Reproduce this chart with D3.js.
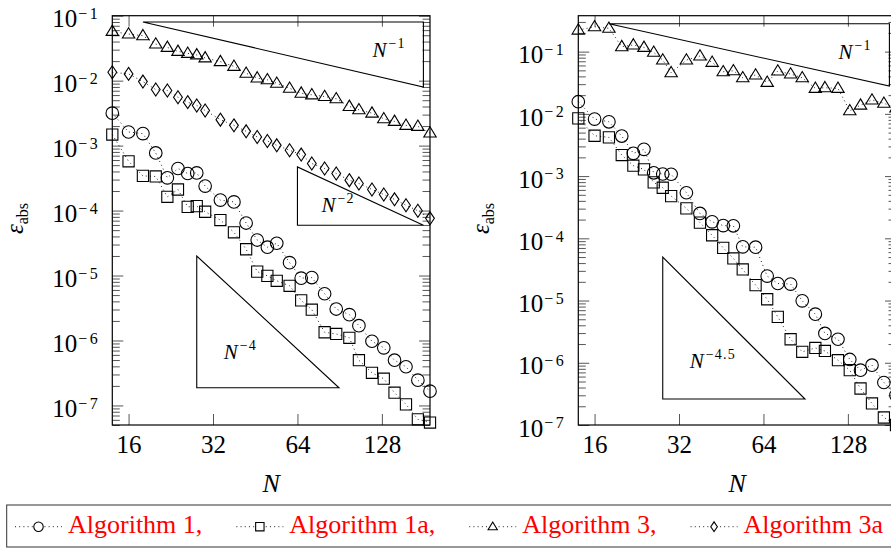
<!DOCTYPE html>
<html>
<head>
<meta charset="utf-8">
<script src="https://cdn.jsdelivr.net/npm/d3@7"></script>
<style>
body { margin: 0; background: #fff; }
svg { display: block; font-family: "Liberation Serif", "Times New Roman", serif; }
</style>
</head>
<body>
<script>
// sample sizes (same for both panels)
var N = [14, 16, 18, 20, 22, 24, 26, 28, 30, 34, 38, 42, 46, 50, 54, 60, 66, 72, 80, 88, 98, 106, 118, 130, 142, 156, 172, 190];

// left panel
var leftAlg1 = [3.16e-3, 1.62e-3, 1.53e-3, 7.71e-4, 3.19e-4, 4.44e-4, 3.72e-4, 3.80e-4, 2.38e-4, 1.45e-4, 1.36e-4, 6.43e-5, 3.52e-5, 2.73e-5,
  3.14e-5, 1.58e-5, 9.12e-6, 9.31e-6, 5.24e-6, 3.05e-6, 2.50e-6, 1.69e-6, 9.73e-7, 7.71e-7, 4.97e-7, 3.94e-7, 2.45e-7, 1.66e-7];
var leftAlg1a = [1.48e-3, 5.74e-4, 3.42e-4, 3.35e-4, 1.63e-4, 2.11e-4, 1.14e-4, 1.17e-4, 9.59e-5, 7.15e-5, 4.63e-5, 2.54e-5, 1.15e-5, 9.89e-6,
  8.29e-6, 6.95e-6, 4.14e-6, 2.98e-6, 1.34e-6, 1.26e-6, 1.10e-6, 4.97e-7, 3.18e-7, 2.58e-7, 1.57e-7, 1.04e-7, 6.12e-8, 5.45e-8];
var leftAlg3 = [0.0573, 0.0522, 0.0492, 0.0366, 0.0325, 0.0282, 0.0263, 0.0249, 0.0224, 0.0196, 0.0166, 0.0130, 0.0110, 0.0103,
  0.00912, 0.00764, 0.00641, 0.00605, 0.00570, 0.00526, 0.00401, 0.00356, 0.00316, 0.00259, 0.00236, 0.00205, 0.00198, 0.00156];
var leftAlg3a = [0.01346, 0.01271, 0.00968, 0.00730, 0.00705, 0.00556, 0.00467, 0.00415, 0.00348, 0.00251, 0.00205, 0.00166, 0.00136, 0.00118,
  0.00101, 8.48e-4, 7.28e-4, 5.30e-4, 4.44e-4, 3.72e-4, 2.94e-4, 2.61e-4, 2.11e-4, 1.77e-4, 1.49e-4, 1.21e-4, 9.93e-5, 7.59e-5];

// right panel
var rightAlg1 = [0.01567, 0.00824, 0.00746, 0.00440, 0.00232, 0.00269, 0.00113, 0.00108, 0.00107, 5.40e-4, 2.51e-4, 1.84e-4, 1.60e-4, 1.59e-4,
  7.30e-5, 7.20e-5, 2.47e-5, 1.88e-5, 1.84e-5, 9.89e-6, 6.04e-6, 2.96e-6, 2.39e-6, 1.13e-6, 7.60e-7, 9.14e-7, 4.82e-7, 3.01e-7];
var rightAlg1a = [8.47e-3, 4.45e-3, 4.19e-3, 2.18e-3, 1.47e-3, 1.28e-3, 7.92e-4, 6.49e-4, 4.77e-4, 3.03e-4, 1.79e-4, 1.12e-4, 7.03e-5, 4.75e-5,
  3.16e-5, 1.77e-5, 1.05e-5, 5.47e-6, 2.39e-6, 1.50e-6, 1.73e-6, 1.55e-6, 1.10e-6, 7.60e-7, 3.86e-7, 2.22e-7, 1.32e-7, 1.0e-7];
var rightAlg3 = [0.222, 0.251, 0.237, 0.120, 0.128, 0.117, 0.0975, 0.0733, 0.0458, 0.0733, 0.0850, 0.0673, 0.0475, 0.0493,
  0.0380, 0.0421, 0.0321, 0.0488, 0.0436, 0.0380, 0.0257, 0.0263, 0.0257, 0.0112, 0.0138, 0.0167, 0.0148, 0.0124];

// slope guides: [N start, N end, value at the start, order]
var leftSlopes = [[18, 180, 0.08, 1], [64, 180, 4.7e-4, 2], [28, 90, 2e-5, 4]];
var rightSlopes = [[18, 180, 0.28, 1], [28, 90, 5e-5, 4.5]];
var slopeLabels = ["1", "2", "4", "4.5"];

var xTickValues = [16, 32, 64, 128];
var yExponents = [-1, -2, -3, -4, -5, -6, -7];
var legendNames = ["Algorithm 1,", "Algorithm 1a,", "Algorithm 3,", "Algorithm 3a"];
var legendMarks = ["circle", "square", "triangle", "diamond"];

var width = 891, height = 548;

var svg = d3.select("body").append("svg")
    .attr("width", width)
    .attr("height", height);

function markPath(type, k) {
    var p = d3.path();
    if (type == "circle") {
        p.moveTo(6.3 * k, 0);
        p.arc(0, 0, 6.3 * k, 0, 2 * Math.PI);
    } else if (type == "square") {
        var h = 5.6 * k;
        p.rect(-h, -h, 2 * h, 2 * h);
    } else if (type == "triangle") {
        p.moveTo(0, -6.3 * k);
        p.lineTo(6.2 * k, 4 * k);
        p.lineTo(-6.2 * k, 4 * k);
        p.closePath();
    } else {
        p.moveTo(0, -6.5 * k);
        p.lineTo(4.4 * k, 0);
        p.lineTo(0, 6.5 * k);
        p.lineTo(-4.4 * k, 0);
        p.closePath();
    }
    return p.toString();
}

var panels = [
    {x0: 112.3, x1: 430, y0: 15.7, y1: 425, ydom: [5e-8, 0.1],
     series: [[leftAlg1, "circle"], [leftAlg1a, "square"], [leftAlg3, "triangle"], [leftAlg3a, "diamond"]],
     slopes: leftSlopes, labels: [slopeLabels[0], slopeLabels[1], slopeLabels[2]]},
    {x0: 578.3, x1: 896, y0: 15.7, y1: 425, ydom: [1e-7, 0.378],
     series: [[rightAlg1, "circle"], [rightAlg1a, "square"], [rightAlg3, "triangle"]],
     slopes: rightSlopes, labels: [slopeLabels[0], slopeLabels[3]]}
];

panels.forEach(function(pn) {
    var x = d3.scaleLog().base(2).domain([N[0], N[N.length - 1]]).range([pn.x0, pn.x1]);
    var y = d3.scaleLog().domain(pn.ydom).range([pn.y1, pn.y0]);
    var g = svg.append("g");

    // minor and major y ticks
    var minor = [], major = [];
    for (var e = -8; e <= 0; e++) {
        for (var m = 1; m <= 9; m++) {
            var v = m * Math.pow(10, e);
            if (v < pn.ydom[0] * 0.999 || v > pn.ydom[1] * 1.001) continue;
            if (m == 1) major.push(v); else minor.push(v);
        }
    }
    [[minor, 7.5], [major, 11]].forEach(function(t) {
        g.append("g").attr("class", "axis")
            .attr("transform", "translate(" + pn.x0 + ",0)")
            .call(d3.axisLeft(y).tickValues(t[0]).tickSize(-t[1]).tickFormat(""));
        g.append("g").attr("class", "axis")
            .attr("transform", "translate(" + pn.x1 + ",0)")
            .call(d3.axisRight(y).tickValues(t[0]).tickSize(-t[1]).tickFormat(""));
    });

    g.append("g").attr("class", "axis x-axis")
        .attr("transform", "translate(0," + pn.y1 + ")")
        .call(d3.axisBottom(x).tickValues(xTickValues).tickSize(-11).tickPadding(10).tickFormat(d3.format("d")));
    g.append("g").attr("class", "axis")
        .attr("transform", "translate(0," + pn.y0 + ")")
        .call(d3.axisTop(x).tickValues(xTickValues).tickSize(-11).tickFormat(""));

    g.selectAll(".axis .domain").remove();
    g.selectAll(".axis line").attr("stroke", "#444").attr("stroke-width", 0.9);
    g.selectAll(".x-axis text").attr("font-size", 25).attr("font-family", "Liberation Serif").attr("fill", "#000");

    // y tick labels 10^e
    var yl = g.selectAll(".ylab").data(yExponents).enter().append("text")
        .attr("class", "ylab")
        .attr("x", pn.x0 - 12)
        .attr("y", function(d) { return y(Math.pow(10, d)) + 11.7; })
        .attr("text-anchor", "end")
        .attr("font-size", 25);
    yl.append("tspan").text("10");
    yl.append("tspan").attr("dy", -8.5).attr("font-size", 16).attr("dx", 1)
        .attr("letter-spacing", 2.5).text(function(d) { return "\u2212" + (-d); });

    // slope triangles
    pn.slopes.forEach(function(s, i) {
        var n0 = s[0], n1 = s[1], v0 = s[2], v1 = v0 * Math.pow(n0 / n1, s[3]);
        var pts = s[3] == 1 ? [[n0, v0], [n1, v0], [n1, v1]] : [[n0, v0], [n0, v1], [n1, v1]];
        g.append("path")
            .attr("d", d3.line().x(function(d) { return x(d[0]); }).y(function(d) { return y(d[1]); })(pts) + "Z")
            .attr("fill", "none").attr("stroke", "#000").attr("stroke-width", 1.1);
        var lx, ly;
        if (s[3] == 1) { lx = x(n1) - 51; ly = y(v0) + 35; }
        else { lx = x(n0) + (x(n1) - x(n0)) * 0.19; ly = y(v1) - (y(v1) - y(v0)) * 0.22; }
        var t = g.append("text").attr("x", lx).attr("y", ly).attr("font-size", 21);
        t.append("tspan").attr("font-style", "italic").text("N");
        t.append("tspan").attr("dy", -9).attr("dx", 2).attr("font-size", 14).attr("letter-spacing", 1.2)
            .text("\u2212" + pn.labels[i]);
    });

    // series
    pn.series.forEach(function(sr) {
        var pts = N.map(function(n, i) { return [n, sr[0][i]]; });
        g.append("path")
            .attr("d", d3.line().x(function(d) { return x(d[0]); }).y(function(d) { return y(d[1]); })(pts))
            .attr("fill", "none").attr("stroke", "#222").attr("stroke-width", 1)
            .attr("stroke-dasharray", "1,3.2");
        g.selectAll(null).data(pts).enter().append("path")
            .attr("transform", function(d) { return "translate(" + x(d[0]) + "," + y(d[1]) + ")"; })
            .attr("d", markPath(sr[1], 1))
            .attr("fill", "none").attr("stroke", "#000").attr("stroke-width", 1.1);
    });

    // frame
    g.append("rect")
        .attr("x", pn.x0).attr("y", pn.y0)
        .attr("width", pn.x1 - pn.x0).attr("height", pn.y1 - pn.y0)
        .attr("fill", "none").attr("stroke", "#000").attr("stroke-width", 1.2);

    // axis labels
    g.append("text")
        .attr("x", (pn.x0 + pn.x1) / 2).attr("y", 491.7)
        .attr("text-anchor", "middle").attr("font-size", 26).attr("font-style", "italic")
        .text("N");
    var lab = g.append("text")
        .attr("transform", "translate(" + (pn.x0 - 89) + ",218.5) rotate(-90)")
        .attr("text-anchor", "middle");
    lab.append("tspan").attr("font-size", 25).attr("font-style", "italic").text("\u03b5");
    lab.append("tspan").attr("font-size", 16).attr("dy", 5).text("abs");
});

// legend
var lg = svg.append("g");
lg.append("rect")
    .attr("x", 6.7).attr("y", 505).attr("width", 900).attr("height", 42)
    .attr("fill", "none").attr("stroke", "#333").attr("stroke-width", 1);
var lx = 15, ly = 526.7;
legendNames.forEach(function(name, i) {
    lg.append("line")
        .attr("x1", lx).attr("x2", lx + 47).attr("y1", ly).attr("y2", ly)
        .attr("stroke", "#222").attr("stroke-width", 1).attr("stroke-dasharray", "1,3.2");
    lg.append("path")
        .attr("transform", "translate(" + (lx + 23.5) + "," + ly + ")")
        .attr("d", markPath(legendMarks[i], 0.75))
        .attr("fill", "#fff").attr("stroke", "#000").attr("stroke-width", 1.1);
    var t = lg.append("text")
        .attr("x", lx + 53).attr("y", 533.3)
        .attr("font-size", 26).attr("fill", "#ff0000")
        .text(name);
    lx = lx + 53 + t.node().getComputedTextLength() + 34;
});
</script>
</body>
</html>
